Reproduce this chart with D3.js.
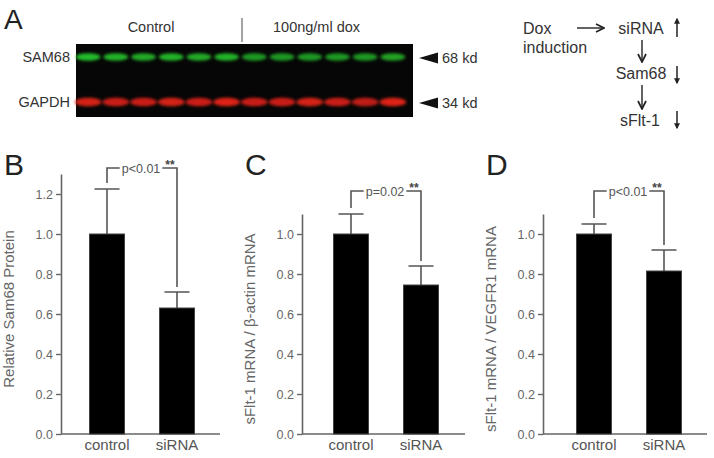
<!DOCTYPE html>
<html>
<head>
<meta charset="utf-8">
<script src="https://cdn.jsdelivr.net/npm/d3@7"></script>
<style>
  body { margin: 0; background: #fff; }
  svg { font-family: "Liberation Sans", Arial, sans-serif; }
</style>
</head>
<body>
<div id="figure"></div>
<script>
// ---- data ----
var lanes = ["1", "2", "3", "4", "5", "6", "7", "8", "9", "10", "11", "12"];
var sam68Band = [0.95, 0.9, 0.85, 0.9, 0.85, 0.9, 0.75, 0.75, 0.75, 0.75, 0.75, 0.8];
var gapdhBand = [0.9, 0.85, 0.85, 0.9, 0.85, 0.95, 0.85, 0.85, 0.9, 0.85, 0.8, 0.95];
var blotGroups = ["Control", "100ng/ml dox"];
var blotRows = ["SAM68", "GAPDH"];
var markers = ["68 kd", "34 kd"];

var categories = ["control", "siRNA"];
var panelLetters = ["B", "C", "D"];
var yLabels = ["Relative Sam68 Protein", "sFlt-1 mRNA / \u03b2-actin mRNA", "sFlt-1 mRNA / VEGFR1 mRNA"];
var yMax = [1.3, 1.1, 1.1];
var yTicks = [[0, 0.2, 0.4, 0.6, 0.8, 1.0, 1.2], [0, 0.2, 0.4, 0.6, 0.8, 1.0], [0, 0.2, 0.4, 0.6, 0.8, 1.0]];
var means = [[1.0, 0.63], [1.0, 0.745], [1.0, 0.815]];
var errors = [[0.225, 0.08], [0.10, 0.095], [0.05, 0.105]];
var pLabels = ["p<0.01", "p=0.02", "p<0.01"];
var bracketLevel = [1.33, 1.215, 1.215];

// ---- layout ----
var svgWidth = 714;
var svgHeight = 458;
var baseY = 434;
var pxPerUnit = 200;
var axisX = [61, 302, 543];
var axisEnd = [220, 465, 707];
var firstCenter = [107, 351, 594];

var svg = d3.select("#figure")
  .append("svg")
  .attr("width", svgWidth)
  .attr("height", svgHeight);

var defs = svg.append("defs");
defs.append("filter").attr("id", "blur")
  .attr("x", "-30%").attr("y", "-80%").attr("width", "160%").attr("height", "260%")
  .append("feGaussianBlur").attr("stdDeviation", 1.4);
defs.append("marker").attr("id", "chev")
  .attr("viewBox", "0 0 10 10").attr("refX", 9).attr("refY", 5)
  .attr("markerWidth", 10).attr("markerHeight", 10).attr("markerUnits", "userSpaceOnUse")
  .attr("orient", "auto")
  .append("path").attr("d", "M1,1 L9,5 L1,9").attr("fill", "none")
  .attr("stroke", "#222").attr("stroke-width", 1.7);
defs.append("marker").attr("id", "tip")
  .attr("viewBox", "0 0 10 10").attr("refX", 8).attr("refY", 5)
  .attr("markerWidth", 6).attr("markerHeight", 6).attr("markerUnits", "userSpaceOnUse")
  .attr("orient", "auto")
  .append("path").attr("d", "M0,0 L10,5 L0,10 Z").attr("fill", "#222");

// ---- panel A: western blot ----
svg.append("text").attr("x", 4).attr("y", 29)
  .attr("font-size", 28).attr("fill", "#222").text("A");

var laneX = d3.scaleBand().domain(lanes).range([74.3, 406.7]).paddingInner(0.18).paddingOuter(0.09);
var rowY = d3.scalePoint().domain(blotRows).range([57, 102]);

svg.append("rect").attr("x", 76).attr("y", 44).attr("width", 337).attr("height", 73).attr("fill", "#060606");

var bandGroup = svg.append("g").attr("filter", "url(#blur)");
bandGroup.selectAll(".sam").data(sam68Band).enter().append("ellipse")
  .attr("cx", (d, i) => laneX(lanes[i]) + laneX.bandwidth() / 2)
  .attr("cy", rowY("SAM68"))
  .attr("rx", laneX.bandwidth() / 2 + 1)
  .attr("ry", 3.8)
  .attr("fill", d => d3.interpolateRgb("#061006", "#26c42c")(d));
bandGroup.selectAll(".gap").data(gapdhBand).enter().append("ellipse")
  .attr("cx", (d, i) => laneX(lanes[i]) + laneX.bandwidth() / 2)
  .attr("cy", rowY("GAPDH"))
  .attr("rx", laneX.bandwidth() / 2 + 2)
  .attr("ry", 4.3)
  .attr("fill", d => d3.interpolateRgb("#140302", "#ea2418")(d));

svg.selectAll(".rowLabel").data(blotRows).enter().append("text")
  .attr("x", 70).attr("y", d => rowY(d) + 5)
  .attr("text-anchor", "end").attr("font-size", 14.5).attr("fill", "#333")
  .text(d => d);

svg.append("text").attr("x", 151).attr("y", 32).attr("text-anchor", "middle")
  .attr("font-size", 14.5).attr("fill", "#333").text(blotGroups[0]);
svg.append("line").attr("x1", 242).attr("x2", 242).attr("y1", 18).attr("y2", 42)
  .attr("stroke", "#666").attr("stroke-width", 1.2);
svg.append("text").attr("x", 273).attr("y", 32)
  .attr("font-size", 14.5).attr("fill", "#333").text(blotGroups[1]);

var mark = svg.selectAll(".marker").data(markers).enter().append("g")
  .attr("transform", (d, i) => `translate(0, ${rowY(blotRows[i]) + 1})`);
mark.append("path").attr("d", "M419,0 L438,-5.5 L438,5.5 Z").attr("fill", "#111");
mark.append("text").attr("x", 442).attr("y", 5).attr("font-size", 14.5).attr("fill", "#333").text(d => d);

// flow diagram
var flow = svg.append("g").attr("font-size", 16).attr("fill", "#333");
flow.append("text").attr("x", 523).attr("y", 34).text("Dox");
flow.append("text").attr("x", 523).attr("y", 53).text("induction");
flow.append("text").attr("x", 641).attr("y", 34).attr("text-anchor", "middle").text("siRNA");
flow.append("text").attr("x", 641).attr("y", 79).attr("text-anchor", "middle").text("Sam68");
flow.append("text").attr("x", 640).attr("y", 126).attr("text-anchor", "middle").text("sFlt-1");
var arrows = [[577, 28, 604, 28], [642, 40, 642, 62], [642, 85, 642, 109]];
svg.selectAll(".flowArrow").data(arrows).enter().append("line")
  .attr("x1", d => d[0]).attr("y1", d => d[1]).attr("x2", d => d[2]).attr("y2", d => d[3])
  .attr("stroke", "#222").attr("stroke-width", 1.4).attr("marker-end", "url(#chev)");
var smallArrows = [[677, 37, 677, 19], [677, 66, 677, 83], [677, 111, 677, 128]];
svg.selectAll(".trend").data(smallArrows).enter().append("line")
  .attr("x1", d => d[0]).attr("y1", d => d[1]).attr("x2", d => d[2]).attr("y2", d => d[3])
  .attr("stroke", "#222").attr("stroke-width", 1.5).attr("marker-end", "url(#tip)");

// ---- panels B, C, D: bar charts ----
panelLetters.forEach(function(letter, p) {
  var g = svg.append("g");
  var y = d3.scaleLinear().domain([0, yMax[p]]).range([baseY, baseY - yMax[p] * pxPerUnit]);
  var x = d3.scaleBand().domain(categories)
    .range([firstCenter[p] - 35, firstCenter[p] + 105])
    .paddingInner(0.5).paddingOuter(0.25);
  var cx = c => x(c) + x.bandwidth() / 2;

  g.append("text").attr("x", axisX[p] - 57).attr("y", 175)
    .attr("font-size", 30).attr("fill", "#222").text(letter);

  var leftAxis = d3.axisLeft(y).tickValues(yTicks[p]).tickFormat(d3.format(".1f"))
    .tickSize(5).tickSizeOuter(0).tickPadding(3);
  var ax = g.append("g").attr("transform", `translate(${axisX[p]}, 0)`).call(leftAxis);
  ax.select(".domain").attr("stroke", "#666").attr("stroke-width", 1.6);
  ax.selectAll(".tick line").attr("stroke", "#666").attr("stroke-width", 1.4);
  ax.selectAll(".tick text").attr("fill", "#666").attr("font-size", 12.5)
    .attr("font-family", "Liberation Sans, Arial, sans-serif");

  g.append("line").attr("x1", axisX[p]).attr("x2", axisEnd[p]).attr("y1", baseY).attr("y2", baseY)
    .attr("stroke", "#666").attr("stroke-width", 1.6);

  g.append("text")
    .attr("transform", `translate(${axisX[p] - 47}, ${baseY - yMax[p] * pxPerUnit / 2 + 5}) rotate(-90)`)
    .attr("text-anchor", "middle").attr("font-size", 15).attr("fill", "#666")
    .text(yLabels[p]);

  // error bars
  g.selectAll(".err").data(categories).enter().append("path")
    .attr("d", (c, i) => {
      var top = y(means[p][i] + errors[p][i]);
      return `M${cx(c)},${y(means[p][i])} V${top} M${cx(c) - 12.5},${top} H${cx(c) + 12.5}`;
    })
    .attr("fill", "none").attr("stroke", "#555").attr("stroke-width", 1.6);

  g.selectAll(".bar").data(categories).enter().append("rect")
    .attr("x", c => x(c)).attr("width", x.bandwidth())
    .attr("y", (c, i) => y(means[p][i]))
    .attr("height", (c, i) => baseY - y(means[p][i]))
    .attr("fill", "#000").attr("stroke", "#444").attr("stroke-width", 1);

  g.selectAll(".cat").data(categories).enter().append("text")
    .attr("x", c => cx(c)).attr("y", 450).attr("text-anchor", "middle")
    .attr("font-size", 15).attr("fill", "#555").text(c => c);

  // significance bracket
  var by = y(bracketLevel[p]);
  var x1 = cx(categories[0]), x2 = cx(categories[1]);
  var mid = (x1 + x2) / 2 - 1;
  var pText = g.append("text").attr("x", mid).attr("y", by + 4.5)
    .attr("text-anchor", "middle").attr("font-size", 12.5).attr("fill", "#555").text(pLabels[p]);
  var half = pText.node().getComputedTextLength() / 2 + 2;
  var leg1 = y(means[p][0] + errors[p][0]) - 6;
  var leg2 = y(means[p][1] + errors[p][1]) - 5;
  g.append("path")
    .attr("d", `M${x1},${leg1} V${by} H${mid - half} M${mid + half},${by} H${x2} V${leg2}`)
    .attr("fill", "none").attr("stroke", "#555").attr("stroke-width", 1.6);
  g.append("text").attr("x", x2 - 7).attr("y", by + 1).attr("text-anchor", "middle")
    .attr("font-size", 12).attr("font-weight", "bold").attr("fill", "#444").text("**");
});
</script>
</body>
</html>
